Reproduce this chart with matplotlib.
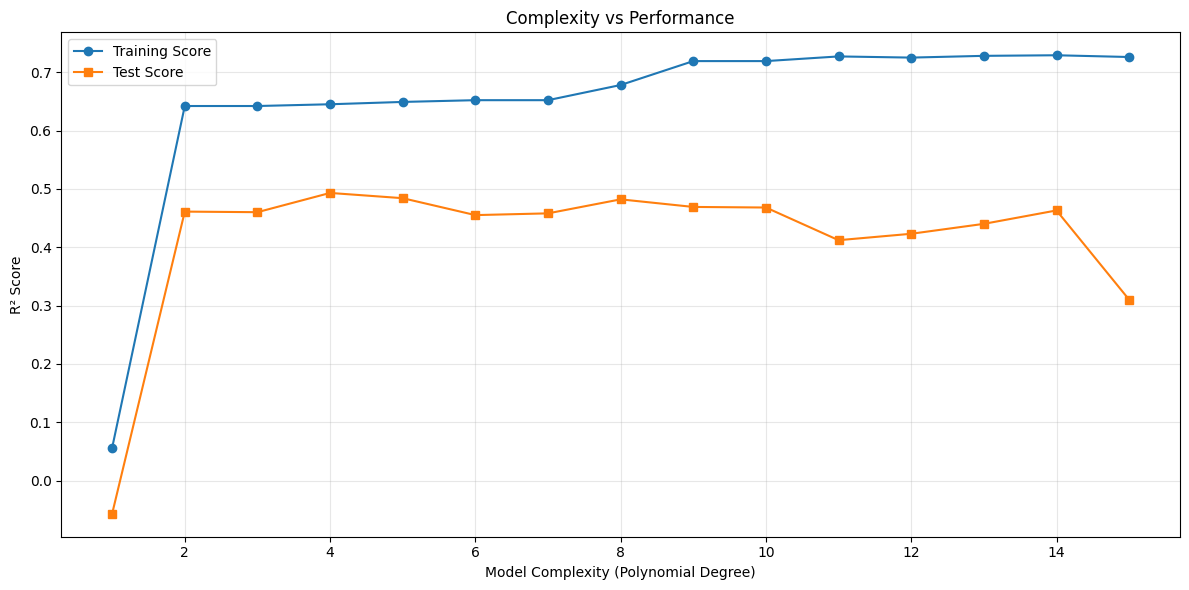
import matplotlib
matplotlib.use("Agg")
import matplotlib.pyplot as plt

# Polynomial degree and scores
degrees = list(range(1, 16))
train_scores = [0.056, 0.642, 0.642, 0.645, 0.649, 0.652, 0.652, 0.678,
                0.719, 0.719, 0.727, 0.725, 0.728, 0.729, 0.726]
test_scores = [-0.057, 0.461, 0.460, 0.493, 0.484, 0.455, 0.458, 0.482,
               0.469, 0.468, 0.412, 0.423, 0.440, 0.463, 0.310]

fig, ax = plt.subplots(figsize=(12, 6), dpi=100)
ax.plot(degrees, train_scores, marker='o', label='Training Score')
ax.plot(degrees, test_scores, marker='s', label='Test Score')
ax.set_xlabel('Model Complexity (Polynomial Degree)')
ax.set_ylabel('R² Score')
ax.set_title('Complexity vs Performance')
ax.legend(loc='upper left')
ax.grid(True, alpha=0.3)
fig.tight_layout()
fig.savefig('out.png', bbox_inches='tight')
